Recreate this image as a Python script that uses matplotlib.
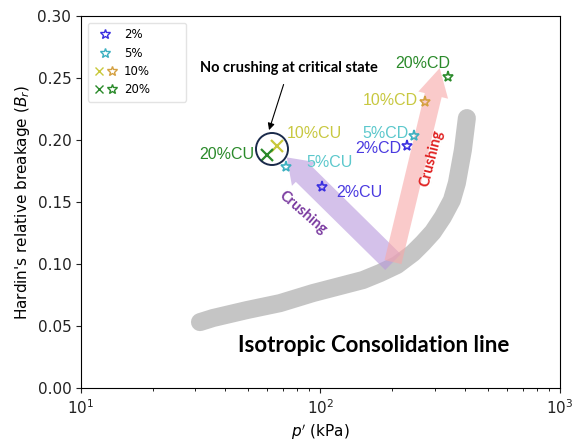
import matplotlib
matplotlib.use("Agg")
import matplotlib.pyplot as plt
from matplotlib.lines import Line2D
from matplotlib.legend_handler import HandlerTuple

# ---- data ----
cu_labels = ["2%CU", "5%CU", "10%CU", "20%CU"]
cu_p = [102, 72, 66, 60]
cu_br = [0.162, 0.178, 0.195, 0.188]
cu_markers = ["*", "*", "x", "x"]

cd_labels = ["2%CD", "5%CD", "10%CD", "20%CD"]
cd_p = [229, 245, 273, 340]
cd_br = [0.195, 0.203, 0.231, 0.251]

colors = ["#3a2fe0", "#3cbcc4", "#c8c83a", "#2a8a2a"]
text_colors = ["#4a3ae0", "#5cc8cc", "#c8c840", "#2a8a2a"]
star_colors = ["#3a2fe0", "#3cb0c0", "#d4a040", "#2a8a2a"]

icl_p = [31.4, 35.6, 49.3, 67.8, 93.0, 150.5, 177.2, 208.7, 243.4, 267.9,
         294.9, 324.7, 354.1, 371.5, 393.6, 409.0]
icl_br = [0.0532, 0.0565, 0.0629, 0.0685, 0.0766, 0.0871, 0.0927, 0.0992, 0.1089, 0.1169,
          0.1258, 0.1379, 0.1515, 0.1653, 0.1919, 0.2177]

legend_labels = ["2%", "5%", "10%", "20%"]

plt.rcParams["font.family"] = ["DejaVu Sans"]

fig = plt.figure(figsize=(5.73, 4.41), dpi=100)
ax = fig.add_axes([0.1414, 0.120, 0.8356, 0.8437])
ax.set_xscale("log")
ax.set_xlim(10, 1000)
ax.set_ylim(0, 0.30)
ax.set_yticks([0, 0.05, 0.10, 0.15, 0.20, 0.25, 0.30])
ax.tick_params(labelsize=11, colors="#222222")
ax.set_xlabel("$p'$ (kPa)", fontsize=11)
ax.set_ylabel("Hardin's relative breakage ($B_r$)", fontsize=11)

# ICL band
ax.plot(icl_p, icl_br, color="#bfbfbf", lw=13, solid_capstyle="round",
        solid_joinstyle="round", alpha=0.9, zorder=1)

# arrows
ax.annotate("", xy=(72.4, 0.186), xytext=(201, 0.1016),
            arrowprops=dict(arrowstyle="simple,head_width=2.4,head_length=1.7,tail_width=1.6",
                            color="#b898dc", alpha=0.6, lw=0, shrinkA=0, shrinkB=0), zorder=2)
ax.annotate("", xy=(315, 0.258), xytext=(201, 0.1016),
            arrowprops=dict(arrowstyle="simple,head_width=2.2,head_length=2.0,tail_width=1.25",
                            color="#f8a8a8", alpha=0.6, lw=0, shrinkA=0, shrinkB=0), zorder=2)
ax.text(84.5, 0.141, "Crushing", color="#7a3aa0", fontsize=10.5, fontweight="bold",
        rotation=-41, ha="center", va="center", family="Lato", zorder=4)
ax.text(292, 0.1855, "Crushing", color="#e02020", fontsize=10.5, fontweight="bold",
        rotation=76, ha="center", va="center", family="Lato", zorder=4)

# points
for i in range(4):
    m = cu_markers[i]
    if m == "*":
        ax.plot(cu_p[i], cu_br[i], marker="*", ms=8, mfc="none", mec=star_colors[i], mew=1.2, ls="none", zorder=5)
    else:
        ax.plot(cu_p[i], cu_br[i], marker="x", ms=8, color=colors[i], mew=1.6, ls="none", zorder=5)
    ax.plot(cd_p[i], cd_br[i], marker="*", ms=8, mfc="none", mec=star_colors[i], mew=1.2, ls="none", zorder=5)

# labels
cu_text_pos = [(146, 0.158), (109.7, 0.182), (94, 0.2056), (40.7, 0.188)]
cd_text_pos = [(173.7, 0.1935), (187.5, 0.2056), (195, 0.2315), (268, 0.262)]
for i in range(4):
    ax.text(*cu_text_pos[i], cu_labels[i], color=text_colors[i], fontsize=11.5,
            ha="center", va="center", family="Liberation Sans", zorder=6)
    ax.text(*cd_text_pos[i], cd_labels[i], color=text_colors[i], fontsize=11.5,
            ha="center", va="center", family="Liberation Sans", zorder=6)

# circle around CU crosses (pixel space)
circ = plt.Circle((272, 441 - 149), 16, transform=None, fill=False, ec="#1a2a4a", lw=1.4, zorder=6)
fig.patches.append(circ)

ax.annotate("No crushing at critical state", xy=(61, 0.208), xytext=(73.8, 0.258),
            fontsize=10.5, fontweight="bold", ha="center", va="center", family="Lato",
            arrowprops=dict(arrowstyle="-|>", color="black", lw=0.8, shrinkA=5, shrinkB=0,
                            mutation_scale=10), zorder=7)

ax.text(167, 0.0347, "Isotropic Consolidation line", fontsize=16, fontweight="bold",
        ha="center", va="center", family="Lato", zorder=7)

# legend
h2 = Line2D([], [], marker="*", ms=7, mfc="none", mec=star_colors[0], ls="none")
h5 = Line2D([], [], marker="*", ms=7, mfc="none", mec=star_colors[1], ls="none")
h10 = (Line2D([], [], marker="x", ms=6, color=colors[2], ls="none"),
       Line2D([], [], marker="*", ms=7, mfc="none", mec=star_colors[2], ls="none"))
h20 = (Line2D([], [], marker="x", ms=6, color=colors[3], ls="none"),
       Line2D([], [], marker="*", ms=7, mfc="none", mec=star_colors[3], ls="none"))
leg = ax.legend([h2, h5, h10, h20], legend_labels, loc="upper left",
                handler_map={tuple: HandlerTuple(ndivide=None, pad=0.2)},
                fontsize=8.5, frameon=True, borderpad=0.45, labelspacing=0.45,
                handlelength=2.0, handletextpad=0.6, borderaxespad=0,
                mode="expand", bbox_to_anchor=(0.0146, 0, 0.205, 0.981))
leg.get_frame().set_edgecolor("#dddddd")

fig.savefig("out.png", dpi=100)
